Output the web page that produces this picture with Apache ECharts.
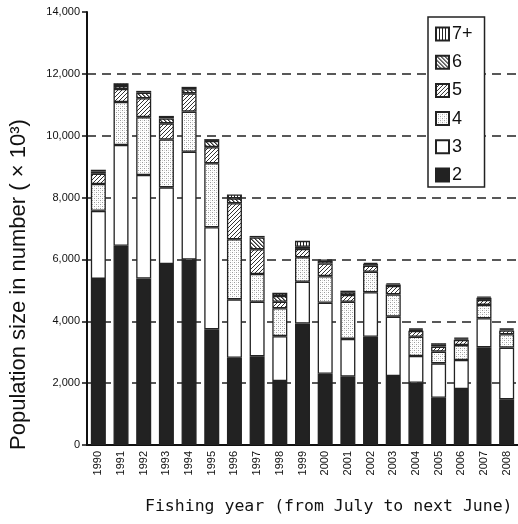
<!DOCTYPE html>
<html>
<head>
<meta charset="utf-8">
<script src="https://cdn.jsdelivr.net/npm/echarts@6/dist/echarts.min.js"></script>
<style>
  html, body { margin: 0; padding: 0; background: #fff; }
  #chart { width: 518px; height: 524px; }
</style>
</head>
<body>
<div id="chart"></div>
<script>
// Fishing years and the estimated population by age group (thousands of fish)
const years = ['1990','1991','1992','1993','1994','1995','1996','1997','1998','1999',
               '2000','2001','2002','2003','2004','2005','2006','2007','2008'];
const age2  = [5370, 6440, 5380, 5850, 6000, 3740, 2820, 2870, 2070, 3930, 2300, 2210, 3500, 2230, 2010, 1530, 1810, 3160, 1480];
const age3  = [2200, 3260, 3350, 2480, 3480, 3300, 1890, 1760, 1450, 1350, 2300, 1220, 1440, 1920,  870, 1110,  940,  940, 1670];
const age4  = [ 870, 1390, 1870, 1550, 1300, 2070, 1940,  900,  900,  790,  860, 1200,  660,  720,  620,  380,  480,  430,  430];
const age5  = [ 330,  420,  610,  520,  590,  520, 1165,  800,  210,  270,  410,  220,  200,  270,  190,  160,  170,  160,  120];
const age6  = [  70,  100,  180,  160,  130,  200,  160,  380,  190,   70,   90,   90,   50,   50,   40,   60,   40,   70,   40];
const age7p = [  60,   90,   60,   80,   80,   60,  125,   50,  100,  190,   40,   50,   40,   40,   40,   50,   30,   40,   30];
const yTicks = [0, 2000, 4000, 6000, 8000, 10000, 12000, 14000];

const xTitle = 'Fishing year (from July to next June)';
const yTitle = 'Population size in number ( × 10³)';

// Small repeating tiles used as monochrome fills
function tile(w, h, draw) {
  const c = document.createElement('canvas');
  c.width = w; c.height = h;
  const g = c.getContext('2d');
  g.fillStyle = '#fff';
  g.fillRect(0, 0, w, h);
  draw(g);
  return { image: c, repeat: 'repeat' };
}
const fillVertical = tile(3, 3, g => { g.fillStyle = '#222'; g.fillRect(0, 0, 1, 3); });
const fillBack = tile(4, 4, g => {
  g.fillStyle = '#333';
  for (let i = 0; i < 4; i++) g.fillRect(i, i, 1, 1);
  g.fillStyle = '#888';
  for (let i = 0; i < 4; i++) g.fillRect((i + 1) % 4, i, 1, 1);
});
const fillFwd = tile(4, 4, g => {
  g.fillStyle = '#333';
  for (let i = 0; i < 4; i++) g.fillRect(3 - i, i, 1, 1);
});
const fillDots = tile(4, 4, g => {
  g.fillStyle = '#9a9a9a';
  g.fillRect(0, 0, 1, 1);
  g.fillRect(2, 2, 1, 1);
  g.fillStyle = '#d8d8d8';
  g.fillRect(2, 0, 1, 1);
  g.fillRect(0, 2, 1, 1);
});

const border = { borderColor: '#222', borderWidth: 1.3 };
function seriesOf(name, data, color) {
  return {
    name, type: 'bar', stack: 'total', data,
    barWidth: 15,
    itemStyle: Object.assign({ color }, border),
    emphasis: { disabled: true }
  };
}

const sans = '"Liberation Sans", Arial, sans-serif';

const chart = echarts.init(document.getElementById('chart'), null, { renderer: 'canvas' });
chart.setOption({
  animation: false,
  backgroundColor: '#fff',
  grid: { left: 87, right: 0, top: 12, bottom: 79 },
  legend: {
    data: ['7+', '6', '5', '4', '3', '2'],
    orient: 'vertical',
    left: 428, top: 17,
    padding: [8, 12, 3, 7],
    icon: 'rect',
    itemWidth: 13, itemHeight: 13, itemGap: 10.2,
    backgroundColor: '#fff',
    borderColor: '#222', borderWidth: 1.5,
    textStyle: { fontFamily: sans, fontSize: 18, color: '#111', padding: [0, 0, 0, -2] }
  },
  // Axis titles placed as free text
  graphic: [
    {
      type: 'text', x: 145, y: 507,
      style: {
        text: xTitle, fill: '#111',
        font: '16.5px "DejaVu Sans Mono", monospace',
        textAlign: 'left', textVerticalAlign: 'middle'
      }
    },
    {
      type: 'text', x: 19, y: 450, rotation: Math.PI / 2,
      style: {
        text: yTitle, fill: '#111',
        font: '22px "Liberation Sans", Arial, sans-serif',
        textAlign: 'left', textVerticalAlign: 'middle'
      }
    }
  ],
  xAxis: {
    type: 'category',
    data: years,
    axisLine: { lineStyle: { color: '#111', width: 2 } },
    axisTick: { show: false },
    axisLabel: { rotate: 90, fontSize: 11, color: '#111', margin: 6, fontFamily: sans }
  },
  yAxis: {
    type: 'value',
    min: yTicks[0], max: yTicks[yTicks.length - 1], interval: 2000,
    axisLine: { show: true, lineStyle: { color: '#111', width: 2 } },
    axisTick: { show: true, length: 5, lineStyle: { color: '#111', width: 1.5 } },
    axisLabel: {
      fontSize: 11, color: '#111', margin: 7, fontFamily: sans,
      formatter: v => v.toLocaleString('en-US')
    },
    splitLine: {
      show: true, showMinLine: false, showMaxLine: false,
      lineStyle: { color: '#222', width: 1.5, type: [9, 6] }
    }
  },
  series: [
    seriesOf('2', age2, '#222'),
    seriesOf('3', age3, '#fff'),
    seriesOf('4', age4, fillDots),
    seriesOf('5', age5, fillFwd),
    seriesOf('6', age6, fillBack),
    seriesOf('7+', age7p, fillVertical)
  ]
});
</script>
</body>
</html>
